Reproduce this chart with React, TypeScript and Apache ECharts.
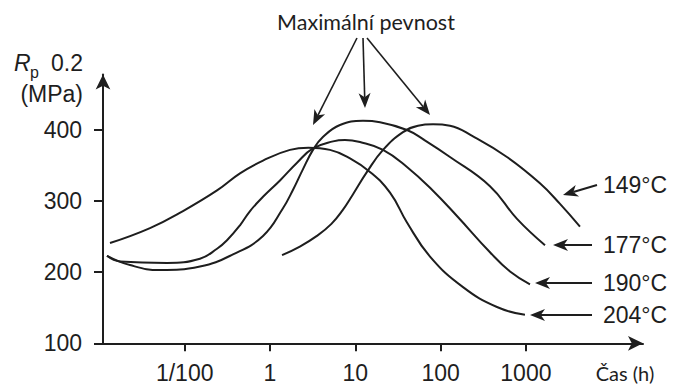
import React, { useEffect, useRef } from "react";
import * as echarts from "echarts";

// x values are log10(time in hours), y values are Rp0.2 in MPa
const curve149: [number, number][] = [
  [0.141, 224], [0.35, 236], [0.55, 251], [0.72, 268], [0.85, 287], [0.97, 309], [1.137, 341],
  [1.325, 372], [1.559, 397], [1.735, 406], [1.911, 408], [2.11, 406], [2.38, 391],
  [2.778, 362], [3.165, 325], [3.4, 296], [3.634, 264],
];
const curve177: [number, number][] = [
  [-1.911, 223], [-1.641, 210], [-1.29, 203], [-0.821, 208], [-0.434, 225], [-0.082, 251],
  [0.152, 290], [0.27, 316], [0.387, 345], [0.504, 372], [0.62, 390], [0.82, 407],
  [1.09, 413], [1.29, 411], [1.606, 400], [1.794, 387], [2.11, 362], [2.579, 321],
  [2.896, 275], [3.224, 238],
];
const curve190: [number, number][] = [
  [-1.911, 223], [-1.758, 215], [-1.208, 213], [-0.821, 219], [-0.621, 233], [-0.504, 245],
  [-0.352, 266], [-0.234, 286], [-0.082, 306], [0.117, 329], [0.317, 354], [0.504, 374],
  [0.739, 384], [0.879, 386], [1.055, 383], [1.325, 372], [1.606, 348], [1.899, 316],
  [2.192, 279], [2.579, 228], [2.814, 201], [3.048, 183],
];
const curve204: [number, number][] = [
  [-1.876, 241], [-1.407, 262], [-1.02, 286], [-0.621, 315], [-0.352, 339], [-0.082, 357],
  [0.234, 372], [0.45, 375], [0.703, 372], [0.938, 360], [1.172, 341], [1.407, 312],
  [1.606, 270], [1.876, 222], [2.263, 179], [2.661, 151], [2.989, 140],
];
const seriesNames = ["149°C", "177°C", "190°C", "204°C"];
const xTickPositions = [-1, 0, 1, 2, 3];
const xTickLabels = ["1/100", "1", "10", "100", "1000"];
const yTickValues = [100, 200, 300, 400];

const INK = "#1e1e1e";

function arrow(x1: number, y1: number, x2: number, y2: number, len: number, half: number, lw: number) {
  const dx = x2 - x1, dy = y2 - y1;
  const d = Math.hypot(dx, dy);
  const ux = dx / d, uy = dy / d;
  const nx = -uy, ny = ux;
  const bx = x2 - ux * len, by = y2 - uy * len;
  const mx = x2 - ux * len * 0.72, my = y2 - uy * len * 0.72;
  return [
    { type: "line", shape: { x1, y1, x2: mx, y2: my }, style: { stroke: INK, lineWidth: lw }, silent: true },
    {
      type: "polygon",
      shape: { points: [[x2, y2], [bx + nx * half, by + ny * half], [mx, my], [bx - nx * half, by - ny * half]] },
      style: { fill: INK },
      silent: true,
    },
  ];
}

export default function App() {
  const ref = useRef<HTMLDivElement>(null);
  useEffect(() => {
    const chart = echarts.init(ref.current!, null, { renderer: "svg" });
    const lineSeries = [curve149, curve177, curve190, curve204].map((d, i) => ({
      name: seriesNames[i],
      type: "line",
      data: d,
      smooth: 0.45,
      showSymbol: false,
      symbol: "none",
      lineStyle: { color: INK, width: 2 },
      silent: true,
    }));
    const labelFont = '23px "Liberation Sans", Arial, sans-serif';
    const tempLabels = [
      { t: seriesNames[0], y: 185, a: [597, 185, 563, 195] },
      { t: seriesNames[1], y: 245, a: [592, 245, 553, 245] },
      { t: seriesNames[2], y: 283, a: [592, 283, 535, 283] },
      { t: seriesNames[3], y: 315, a: [592, 315, 530, 315] },
    ];
    const graphics: any[] = [];
    tempLabels.forEach((l) => {
      graphics.push({
        type: "text",
        style: { x: 603, y: l.y, text: l.t, font: labelFont, fill: INK, textVerticalAlign: "middle" },
        silent: true,
      });
      graphics.push(...arrow(l.a[0], l.a[1], l.a[2], l.a[3], 15, 6, 2));
    });
    graphics.push(...arrow(357, 38, 313, 125, 15, 6, 1.6));
    graphics.push(...arrow(363, 38, 365, 108, 15, 6, 1.6));
    graphics.push(...arrow(367, 38, 430, 115, 15, 6, 1.6));
    graphics.push({
      type: "text",
      style: { x: 366, y: 22, text: "Maximální pevnost", font: '21.5px Lato, "Noto Sans", sans-serif', fill: INK, textAlign: "center", textVerticalAlign: "middle" },
      silent: true,
    });
    graphics.push({
      type: "text",
      style: { x: 625, y: 373, text: "Čas (h)", font: '20px Lato, "Noto Sans", sans-serif', fill: INK, textAlign: "center", textVerticalAlign: "middle" },
      silent: true,
    });
    graphics.push({
      type: "text",
      style: { x: 14, y: 63, text: "R", font: 'italic 23px "Liberation Sans", Arial, sans-serif', fill: INK, textVerticalAlign: "middle" },
      silent: true,
    });
    graphics.push({
      type: "text",
      style: { x: 30, y: 72, text: "p", font: '16px "Liberation Sans", Arial, sans-serif', fill: INK, textVerticalAlign: "middle" },
      silent: true,
    });
    graphics.push({
      type: "text",
      style: { x: 83, y: 63, text: "0.2", font: labelFont, fill: INK, textAlign: "right", textVerticalAlign: "middle" },
      silent: true,
    });
    graphics.push({
      type: "text",
      style: { x: 83, y: 94, text: "(MPa)", font: labelFont, fill: INK, textAlign: "right", textVerticalAlign: "middle" },
      silent: true,
    });

    chart.setOption({
      animation: false,
      backgroundColor: "#ffffff",
      grid: { left: 103, right: 32, top: 74.5, bottom: 44.7, containLabel: false },
      xAxis: {
        type: "value",
        min: -1.958,
        max: 4.373,
        axisLine: { show: true, onZero: false, lineStyle: { color: INK, width: 2 }, symbol: ["none", "arrow"], symbolSize: [11, 15] },
        axisTick: { show: true, customValues: xTickPositions, length: 8, lineStyle: { color: INK, width: 2 } },
        axisLabel: {
          customValues: xTickPositions,
          formatter: (v: number) => xTickLabels[xTickPositions.indexOf(v)] ?? "",
          fontSize: 23,
          fontFamily: '"Liberation Sans", Arial, sans-serif',
          color: INK,
          margin: 18,
        },
        splitLine: { show: false },
      },
      yAxis: {
        type: "value",
        min: 100,
        max: 478,
        axisLine: { show: true, onZero: false, lineStyle: { color: INK, width: 2 }, symbol: ["none", "arrow"], symbolSize: [11, 15] },
        axisTick: { show: true, customValues: yTickValues, length: 9, lineStyle: { color: INK, width: 2 } },
        axisLabel: {
          customValues: yTickValues,
          fontSize: 23,
          fontFamily: '"Liberation Sans", Arial, sans-serif',
          color: INK,
          margin: 21,
        },
        splitLine: { show: false },
      },
      series: lineSeries,
      graphic: graphics,
    });
    return () => chart.dispose();
  }, []);
  return <div ref={ref} style={{ position: "fixed", left: 0, top: 0, width: 675, height: 388 }} />;
}
